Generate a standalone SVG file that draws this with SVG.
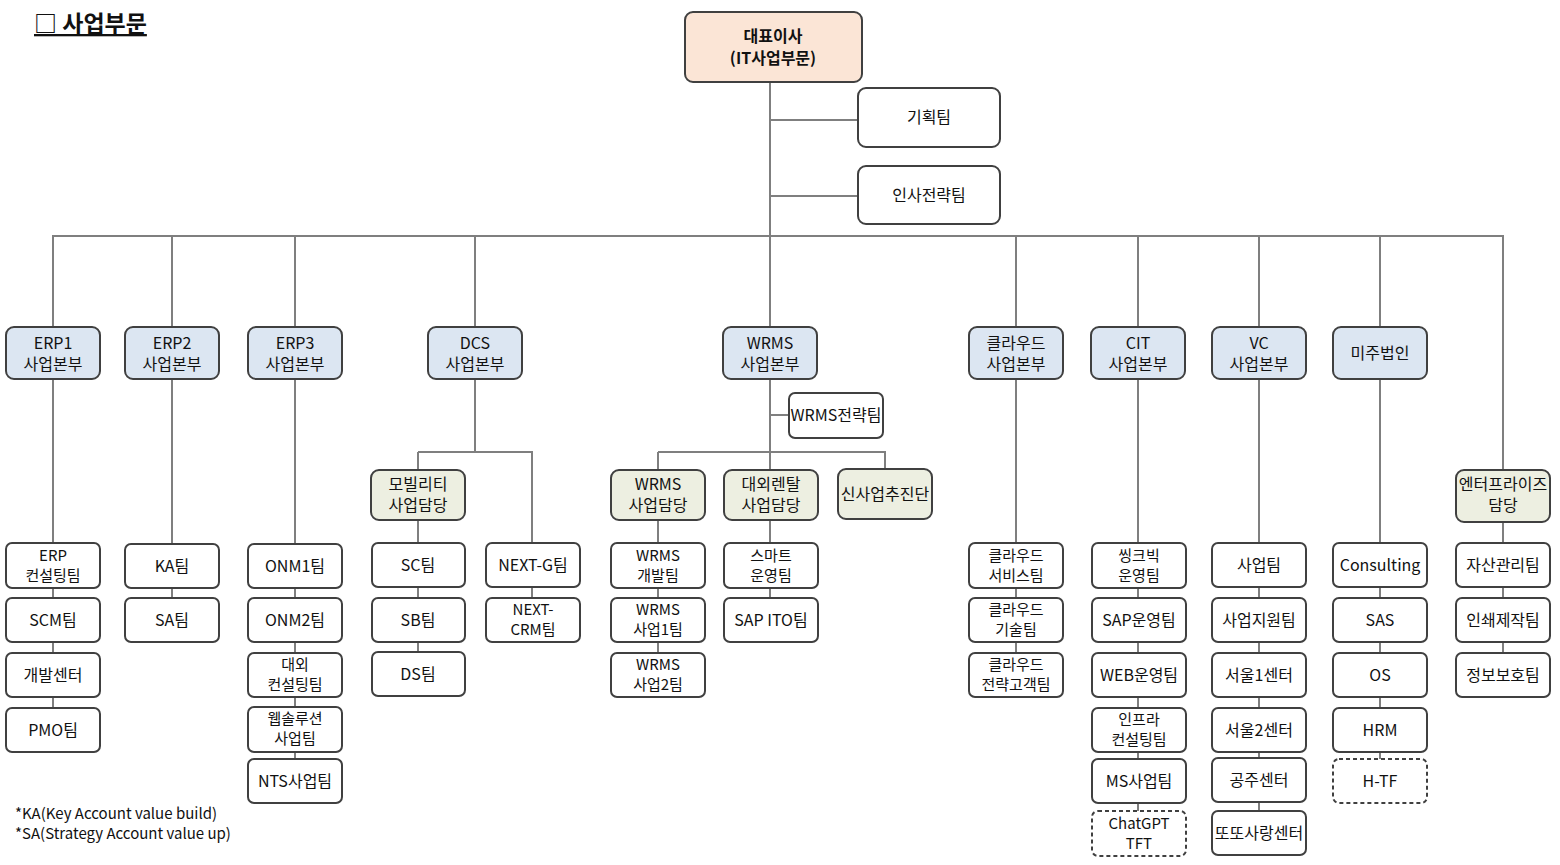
<svg xmlns="http://www.w3.org/2000/svg" width="1560" height="865" viewBox="0 0 1560 865">
<style>
text{font-family:"Noto Sans CJK KR","Noto Sans",sans-serif;font-size:16px;fill:#111;text-anchor:middle}
.s text{font-size:15px}
.b{stroke:#404040;stroke-width:2;fill:#fff}
.h{stroke:#404040;stroke-width:2;fill:#dce6f2}
.g{stroke:#404040;stroke-width:2;fill:#edefe1}
.d{stroke:#404040;stroke-width:2;fill:#fff;stroke-dasharray:4 3}
.c{stroke:#7f7f7f;stroke-width:2;fill:none}
.n{text-anchor:start;font-size:15px}
</style>
<rect width="1560" height="865" fill="#fff"/>
<text x="34" y="32" style="text-anchor:start;font-size:23px;font-weight:bold;text-decoration:underline">□ 사업부문</text>
<g id="connectors">
<path class="c" d="M770 82V327M770 120H858M770 196H858M53 327V236H1503V470M172 236V327M295 236V327M475 236V327M1016 236V327M1138 236V327M1259 236V327M1380 236V327"/>
<path class="c" d="M53 379V708M172 379V598M295 379V759M1016 379V653M1138 379V811M1259 379V811M1380 379V759M1503 522V653"/>
<path class="c" d="M475 379V452M418 452H532V543M418 452V470M418 520V652M532 587V598"/>
<path class="c" d="M770 379V470M770 415H789M658 452H885V469M658 452V470M658 520V653M770 520V598"/>
</g>
<g id="ceo"><rect class="b" x="685" y="12" width="177" height="70" rx="8" style="fill:#fbe5d6"/><text x="773" y="42" font-weight="bold">대표이사</text><text x="773" y="64" font-weight="bold">(IT사업부문)</text></g>
<g id="plan"><rect class="b" x="858" y="88" width="142" height="59" rx="8"/><text x="929" y="123">기획팀</text></g>
<g id="hr"><rect class="b" x="858" y="166" width="142" height="58" rx="8"/><text x="929" y="201">인사전략팀</text></g>

<g id="erp1"><rect class="h" x="6" y="327" width="94" height="52" rx="8"/><text x="53" y="349">ERP1</text><text x="53" y="370">사업본부</text></g>
<g id="erp2"><rect class="h" x="125" y="327" width="94" height="52" rx="8"/><text x="172" y="349">ERP2</text><text x="172" y="370">사업본부</text></g>
<g id="erp3"><rect class="h" x="248" y="327" width="94" height="52" rx="8"/><text x="295" y="349">ERP3</text><text x="295" y="370">사업본부</text></g>
<g id="dcs"><rect class="h" x="428" y="327" width="94" height="52" rx="8"/><text x="475" y="349">DCS</text><text x="475" y="370">사업본부</text></g>
<g id="wrms"><rect class="h" x="723" y="327" width="94" height="52" rx="8"/><text x="770" y="349">WRMS</text><text x="770" y="370">사업본부</text></g>
<g id="cloud"><rect class="h" x="969" y="327" width="94" height="52" rx="8"/><text x="1016" y="349">클라우드</text><text x="1016" y="370">사업본부</text></g>
<g id="cit"><rect class="h" x="1091" y="327" width="94" height="52" rx="8"/><text x="1138" y="349">CIT</text><text x="1138" y="370">사업본부</text></g>
<g id="vc"><rect class="h" x="1212" y="327" width="94" height="52" rx="8"/><text x="1259" y="349">VC</text><text x="1259" y="370">사업본부</text></g>
<g id="us"><rect class="h" x="1333" y="327" width="94" height="52" rx="8"/><text x="1380" y="359">미주법인</text></g>

<g id="erp1-1" class="s"><rect class="b" x="6" y="543" width="94" height="45" rx="6"/><text x="53" y="561">ERP</text><text x="53" y="581">컨설팅팀</text></g>
<g id="erp1-2"><rect class="b" x="6" y="598" width="94" height="44" rx="6"/><text x="53" y="626">SCM팀</text></g>
<g id="erp1-3"><rect class="b" x="6" y="653" width="94" height="44" rx="6"/><text x="53" y="681">개발센터</text></g>
<g id="erp1-4"><rect class="b" x="6" y="708" width="94" height="44" rx="6"/><text x="53" y="736">PMO팀</text></g>

<g id="erp2-1"><rect class="b" x="125" y="544" width="94" height="44" rx="6"/><text x="172" y="572">KA팀</text></g>
<g id="erp2-2"><rect class="b" x="125" y="598" width="94" height="44" rx="6"/><text x="172" y="626">SA팀</text></g>

<g id="erp3-1"><rect class="b" x="248" y="544" width="94" height="44" rx="6"/><text x="295" y="572">ONM1팀</text></g>
<g id="erp3-2"><rect class="b" x="248" y="598" width="94" height="44" rx="6"/><text x="295" y="626">ONM2팀</text></g>
<g id="erp3-3" class="s"><rect class="b" x="248" y="653" width="94" height="44" rx="6"/><text x="295" y="670">대외</text><text x="295" y="690">컨설팅팀</text></g>
<g id="erp3-4" class="s"><rect class="b" x="248" y="707" width="94" height="45" rx="6"/><text x="295" y="724">웹솔루션</text><text x="295" y="744">사업팀</text></g>
<g id="erp3-5"><rect class="b" x="248" y="759" width="94" height="44" rx="6"/><text x="295" y="787">NTS사업팀</text></g>

<g id="mob"><rect class="g" x="371" y="470" width="94" height="50" rx="8"/><text x="418" y="490">모빌리티</text><text x="418" y="511">사업담당</text></g>
<g id="sc"><rect class="b" x="372" y="543" width="93" height="44" rx="6"/><text x="418" y="571">SC팀</text></g>
<g id="sb"><rect class="b" x="372" y="598" width="93" height="44" rx="6"/><text x="418" y="626">SB팀</text></g>
<g id="ds"><rect class="b" x="372" y="652" width="93" height="44" rx="6"/><text x="418" y="680">DS팀</text></g>
<g id="nextg"><rect class="b" x="486" y="543" width="94" height="44" rx="6"/><text x="533" y="571">NEXT-G팀</text></g>
<g id="nextcrm" class="s"><rect class="b" x="486" y="598" width="94" height="44" rx="6"/><text x="533" y="615">NEXT-</text><text x="533" y="635">CRM팀</text></g>

<g id="wrms-st"><rect class="b" x="789" y="393" width="94" height="45" rx="6"/><text x="836" y="421">WRMS전략팀</text></g>
<g id="wrms-biz"><rect class="g" x="611" y="470" width="94" height="50" rx="8"/><text x="658" y="490">WRMS</text><text x="658" y="511">사업담당</text></g>
<g id="rental"><rect class="g" x="724" y="470" width="94" height="50" rx="8"/><text x="771" y="490">대외렌탈</text><text x="771" y="511">사업담당</text></g>
<g id="newbiz"><rect class="g" x="838" y="469" width="94" height="50" rx="8"/><text x="885" y="500">신사업추진단</text></g>
<g id="wrms-dev" class="s"><rect class="b" x="611" y="543" width="94" height="45" rx="6"/><text x="658" y="561">WRMS</text><text x="658" y="581">개발팀</text></g>
<g id="wrms-1" class="s"><rect class="b" x="611" y="598" width="94" height="44" rx="6"/><text x="658" y="615">WRMS</text><text x="658" y="635">사업1팀</text></g>
<g id="wrms-2" class="s"><rect class="b" x="611" y="653" width="94" height="44" rx="6"/><text x="658" y="670">WRMS</text><text x="658" y="690">사업2팀</text></g>
<g id="smart" class="s"><rect class="b" x="724" y="543" width="94" height="45" rx="6"/><text x="771" y="561">스마트</text><text x="771" y="581">운영팀</text></g>
<g id="sapito"><rect class="b" x="724" y="598" width="94" height="44" rx="6"/><text x="771" y="626">SAP ITO팀</text></g>

<g id="cl-1" class="s"><rect class="b" x="969" y="543" width="94" height="45" rx="6"/><text x="1016" y="561">클라우드</text><text x="1016" y="581">서비스팀</text></g>
<g id="cl-2" class="s"><rect class="b" x="969" y="598" width="94" height="44" rx="6"/><text x="1016" y="615">클라우드</text><text x="1016" y="635">기술팀</text></g>
<g id="cl-3" class="s"><rect class="b" x="969" y="653" width="94" height="44" rx="6"/><text x="1016" y="670">클라우드</text><text x="1016" y="690">전략고객팀</text></g>

<g id="cit-1" class="s"><rect class="b" x="1092" y="543" width="94" height="45" rx="6"/><text x="1139" y="561">씽크빅</text><text x="1139" y="581">운영팀</text></g>
<g id="cit-2"><rect class="b" x="1092" y="598" width="94" height="44" rx="6"/><text x="1139" y="626">SAP운영팀</text></g>
<g id="cit-3"><rect class="b" x="1092" y="653" width="94" height="44" rx="6"/><text x="1139" y="681">WEB운영팀</text></g>
<g id="cit-4" class="s"><rect class="b" x="1092" y="708" width="94" height="44" rx="6"/><text x="1139" y="725">인프라</text><text x="1139" y="745">컨설팅팀</text></g>
<g id="cit-5"><rect class="b" x="1092" y="759" width="94" height="44" rx="6"/><text x="1139" y="787">MS사업팀</text></g>
<g id="cit-6" class="s"><rect class="d" x="1092" y="811" width="94" height="45" rx="6"/><text x="1139" y="829">ChatGPT</text><text x="1139" y="849">TFT</text></g>

<g id="vc-1"><rect class="b" x="1212" y="543" width="94" height="44" rx="6"/><text x="1259" y="571">사업팀</text></g>
<g id="vc-2"><rect class="b" x="1212" y="598" width="94" height="44" rx="6"/><text x="1259" y="626">사업지원팀</text></g>
<g id="vc-3"><rect class="b" x="1212" y="653" width="94" height="44" rx="6"/><text x="1259" y="681">서울1센터</text></g>
<g id="vc-4"><rect class="b" x="1212" y="708" width="94" height="44" rx="6"/><text x="1259" y="736">서울2센터</text></g>
<g id="vc-5"><rect class="b" x="1212" y="758" width="94" height="44" rx="6"/><text x="1259" y="786">공주센터</text></g>
<g id="vc-6"><rect class="b" x="1212" y="811" width="94" height="44" rx="6"/><text x="1259" y="839">또또사랑센터</text></g>

<g id="us-1"><rect class="b" x="1333" y="543" width="94" height="44" rx="6"/><text x="1380" y="571">Consulting</text></g>
<g id="us-2"><rect class="b" x="1333" y="598" width="94" height="44" rx="6"/><text x="1380" y="626">SAS</text></g>
<g id="us-3"><rect class="b" x="1333" y="653" width="94" height="44" rx="6"/><text x="1380" y="681">OS</text></g>
<g id="us-4"><rect class="b" x="1333" y="708" width="94" height="44" rx="6"/><text x="1380" y="736">HRM</text></g>
<g id="us-5"><rect class="d" x="1333" y="759" width="94" height="44" rx="6"/><text x="1380" y="787">H-TF</text></g>

<g id="ent"><rect class="g" x="1456" y="470" width="94" height="52" rx="8"/><text x="1503" y="490">엔터프라이즈</text><text x="1503" y="511">담당</text></g>
<g id="ent-1"><rect class="b" x="1456" y="543" width="94" height="44" rx="6"/><text x="1503" y="571">자산관리팀</text></g>
<g id="ent-2"><rect class="b" x="1456" y="598" width="94" height="44" rx="6"/><text x="1503" y="626">인쇄제작팀</text></g>
<g id="ent-3"><rect class="b" x="1456" y="653" width="94" height="44" rx="6"/><text x="1503" y="681">정보보호팀</text></g>

<text class="n" x="15" y="819">*KA(Key Account value build)</text>
<text class="n" x="15" y="839">*SA(Strategy Account value up)</text>
</svg>
